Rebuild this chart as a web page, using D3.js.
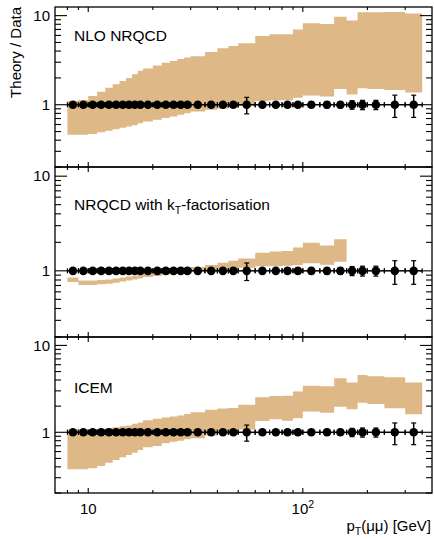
<!DOCTYPE html>
<html>
<head>
<meta charset="utf-8">
<script src="https://cdn.jsdelivr.net/npm/d3@7/dist/d3.min.js"></script>
<style>
  html, body { margin: 0; padding: 0; background: #fff; }
  svg { display: block; }
  text { font-family: "Liberation Sans", Arial, Helvetica, sans-serif; fill: #000; }
</style>
</head>
<body>
<svg id="chart" width="434" height="539"></svg>
<script>
// ---------------- data ----------------
const binEdges = [8, 9, 10, 11, 12, 13, 14, 15, 16, 17, 18, 20, 22, 24, 26, 28, 30, 35, 40, 45, 50,
                  60, 70, 80, 90, 100, 120, 140, 160, 180, 200, 240, 300, 360];
const dataRatio = [1, 1, 1, 1, 1, 1, 1, 1, 1, 1, 1, 1, 1, 1, 1, 1, 1, 1, 1, 1, 1,
                   1, 1, 1, 1, 1, 1, 1, 1, 1, 1, 1, 1];
const dataErr = [0.03, 0.03, 0.03, 0.03, 0.03, 0.03, 0.03, 0.03, 0.03, 0.03, 0.03, 0.03, 0.03, 0.03,
                 0.03, 0.03, 0.03, 0.04, 0.04, 0.05, 0.21, 0.05, 0.05, 0.05, 0.06, 0.07, 0.08, 0.08,
                 0.11, 0.12, 0.12, 0.28, 0.28];

const nloLow  = [0.46, 0.46, 0.47, 0.49, 0.51, 0.53, 0.55, 0.57, 0.59, 0.62, 0.65, 0.68, 0.71, 0.74,
                 0.77, 0.80, 0.84, 0.88, 0.90, 0.92, 0.97, 1.10, 1.12, 1.12, 1.20, 1.27, 1.24, 1.50,
                 1.30, 1.53, 1.50, 1.46, 1.37];
const nloHigh = [1.10, 1.13, 1.25, 1.40, 1.55, 1.70, 1.85, 2.00, 2.20, 2.40, 2.55, 2.75, 2.95, 3.10,
                 3.25, 3.40, 3.50, 3.90, 4.30, 4.55, 4.90, 5.90, 6.20, 6.20, 7.00, 8.20, 8.05, 9.70,
                 8.80, 10.9, 10.9, 11.0, 10.6];

const ktLow  = [0.76, 0.71, 0.71, 0.72, 0.73, 0.75, 0.77, 0.79, 0.81, 0.83, 0.86, 0.88, 0.91, 0.93,
                0.95, 0.97, 0.99, 1.00, 1.02, 1.03, 1.08, 1.12, 1.12, 1.13, 1.15, 1.20, 1.16, 1.25];
const ktHigh = [0.85, 0.79, 0.79, 0.80, 0.81, 0.83, 0.85, 0.87, 0.89, 0.91, 0.95, 0.97, 1.00, 1.02,
                1.04, 1.06, 1.10, 1.15, 1.22, 1.28, 1.35, 1.55, 1.60, 1.62, 1.76, 1.98, 1.85, 2.15];

const icemLow  = [0.375, 0.375, 0.385, 0.41, 0.447, 0.48, 0.515, 0.548, 0.582, 0.626, 0.672, 0.695,
                  0.747, 0.78, 0.80, 0.83, 0.853, 0.92, 0.97, 1.00, 1.08, 1.35, 1.41, 1.36, 1.45,
                  1.73, 1.68, 1.97, 1.84, 2.19, 2.12, 1.89, 1.61];
const icemHigh = [1.08, 1.08, 1.09, 1.10, 1.12, 1.14, 1.17, 1.20, 1.25, 1.30, 1.38, 1.43, 1.48, 1.52,
                  1.56, 1.62, 1.70, 1.82, 1.88, 1.90, 2.08, 2.53, 2.62, 2.64, 2.95, 3.44, 3.38, 4.18,
                  3.75, 4.57, 4.42, 4.30, 3.74];

const panelNames = ["NLO NRQCD", "NRQCD with k_T-factorisation", "ICEM"];
const yTickValues = [1, 10];
const yTickLabels = ["1", "10"];
const xTickValues = [10, 100];
const xTickLabels = ["10", "10^2"];
const yTitle = "Theory / Data";
const xTitle = "p_T(\u03bc\u03bc) [GeV]";

// ---------------- layout ----------------
const svg = d3.select("#chart");
const left = 55, right = 432;
const panels = [
  { top: 7,   bottom: 167, low: nloLow,  high: nloHigh,  name: panelNames[0] },
  { top: 167, bottom: 337, low: ktLow,   high: ktHigh,   name: panelNames[1] },
  { top: 337, bottom: 493, low: icemLow, high: icemHigh, name: panelNames[2] }
];
const bandColor = "#deb887";
const x = d3.scaleLog().domain([7, 400]).range([left, right]);

const xMinor = [8, 9, 20, 30, 40, 50, 60, 70, 80, 90, 200, 300, 400];
const yMinor = [0.2, 0.3, 0.4, 0.5, 0.6, 0.7, 0.8, 0.9, 2, 3, 4, 5, 6, 7, 8, 9];

function addText(g, str, attrs, subSize) {
  const t = g.append("text");
  Object.entries(attrs).forEach(([k, v]) => t.attr(k, v));
  const parts = str.split("_");
  t.append("tspan").text(parts[0]);
  for (let i = 1; i < parts.length; i++) {
    const sub = parts[i].charAt(0), rest = parts[i].slice(1);
    t.append("tspan").attr("font-size", subSize).attr("dy", 4).text(sub);
    t.append("tspan").attr("dy", -4).text(rest);
  }
  return t;
}

panels.forEach((p, pi) => {
  const y = d3.scaleLog().domain([0.2, 12.5]).range([p.bottom, p.top]);
  const g = svg.append("g");

  // clip
  const clipId = "clip" + pi;
  svg.append("clipPath").attr("id", clipId).append("rect")
    .attr("x", left).attr("y", p.top).attr("width", right - left).attr("height", p.bottom - p.top);

  // band (step histogram)
  const nb = p.low.length;
  const pts = [];
  for (let i = 0; i < nb; i++) pts.push({ x: binEdges[i], lo: p.low[i], hi: p.high[i] });
  pts.push({ x: binEdges[nb], lo: p.low[nb - 1], hi: p.high[nb - 1] });
  const area = d3.area().curve(d3.curveStepAfter)
    .x(d => x(d.x)).y0(d => y(d.lo)).y1(d => y(d.hi));
  g.append("path").datum(pts).attr("d", area).attr("fill", bandColor)
    .attr("clip-path", `url(#${clipId})`);

  // data: horizontal error bars
  const nd = dataRatio.length;
  const dg = g.append("g").attr("stroke", "#000").attr("stroke-width", 1.5);
  for (let i = 0; i < nd; i++) {
    const xl = x(binEdges[i]), xr = x(binEdges[i + 1]);
    const yc = y(dataRatio[i]);
    dg.append("line").attr("x1", xl).attr("x2", xr).attr("y1", yc).attr("y2", yc);
    dg.append("line").attr("x1", xl).attr("x2", xl).attr("y1", yc - 2.5).attr("y2", yc + 2.5).attr("stroke-width", 1.2);
    dg.append("line").attr("x1", xr).attr("x2", xr).attr("y1", yc - 2.5).attr("y2", yc + 2.5).attr("stroke-width", 1.2);
    const xc = x(Math.sqrt(binEdges[i] * binEdges[i + 1]));
    const yt = y(dataRatio[i] + dataErr[i]), yb = y(dataRatio[i] - dataErr[i]);
    dg.append("line").attr("x1", xc).attr("x2", xc).attr("y1", yt).attr("y2", yb);
    dg.append("line").attr("x1", xc - 2.5).attr("x2", xc + 2.5).attr("y1", yt).attr("y2", yt).attr("stroke-width", 1.2);
    dg.append("line").attr("x1", xc - 2.5).attr("x2", xc + 2.5).attr("y1", yb).attr("y2", yb).attr("stroke-width", 1.2);
  }
  g.append("g").selectAll("circle").data(dataRatio).join("circle")
    .attr("cx", (d, i) => x(Math.sqrt(binEdges[i] * binEdges[i + 1])))
    .attr("cy", d => y(d)).attr("r", 4.3).attr("fill", "#000");

  // frame
  const fr = g.append("g").attr("stroke", "#000").attr("stroke-width", 1.3).attr("fill", "none");
  fr.append("rect").attr("x", left).attr("y", p.top).attr("width", right - left).attr("height", p.bottom - p.top);

  // y ticks (left & right, inward)
  const tk = g.append("g").attr("stroke", "#000").attr("stroke-width", 1.1);
  yTickValues.forEach(v => {
    tk.append("line").attr("x1", left).attr("x2", left + 12).attr("y1", y(v)).attr("y2", y(v));
    tk.append("line").attr("x1", right).attr("x2", right - 12).attr("y1", y(v)).attr("y2", y(v));
  });
  yMinor.forEach(v => {
    tk.append("line").attr("x1", left).attr("x2", left + 6).attr("y1", y(v)).attr("y2", y(v));
    tk.append("line").attr("x1", right).attr("x2", right - 6).attr("y1", y(v)).attr("y2", y(v));
  });
  // x ticks (bottom & top, inward)
  xTickValues.forEach(v => {
    tk.append("line").attr("x1", x(v)).attr("x2", x(v)).attr("y1", p.bottom).attr("y2", p.bottom - 5);
    tk.append("line").attr("x1", x(v)).attr("x2", x(v)).attr("y1", p.top).attr("y2", p.top + 5);
  });
  xMinor.forEach(v => {
    if (x(v) >= right - 0.5) return;
    tk.append("line").attr("x1", x(v)).attr("x2", x(v)).attr("y1", p.bottom).attr("y2", p.bottom - 3);
    tk.append("line").attr("x1", x(v)).attr("x2", x(v)).attr("y1", p.top).attr("y2", p.top + 3);
  });

  // y tick labels
  yTickValues.forEach((v, i) => {
    g.append("text").attr("x", 50).attr("y", y(v) + 5.3).attr("text-anchor", "end")
      .attr("font-size", 15).text(yTickLabels[i]);
  });

  // panel label
  const ly = p.top + (pi === 0 ? 33.7 : pi === 1 ? 43 : 56.3);
  addText(g, p.name, { x: 74, y: ly, "font-size": 15.5 }, 10.5);
});

// x tick labels (bottom panel only)
const bottomY = panels[2].bottom;
xTickValues.forEach((v, i) => {
  const lab = xTickLabels[i];
  if (lab.includes("^")) {
    const [b, e] = lab.split("^");
    const t = svg.append("text").attr("x", x(v)).attr("y", bottomY + 21).attr("text-anchor", "middle")
      .attr("font-size", 15);
    t.append("tspan").text(b);
    t.append("tspan").attr("font-size", 10.5).attr("dy", -6).text(e);
  } else {
    svg.append("text").attr("x", x(v)).attr("y", bottomY + 21).attr("text-anchor", "middle")
      .attr("font-size", 15).text(lab);
  }
});

// axis titles
addText(svg, xTitle, { x: 431, y: 531, "text-anchor": "end", "font-size": 15 }, 10.5);
svg.append("text").attr("transform", "translate(21,7) rotate(-90)")
  .attr("text-anchor", "end").attr("font-size", 15).text(yTitle);
</script>
</body>
</html>
